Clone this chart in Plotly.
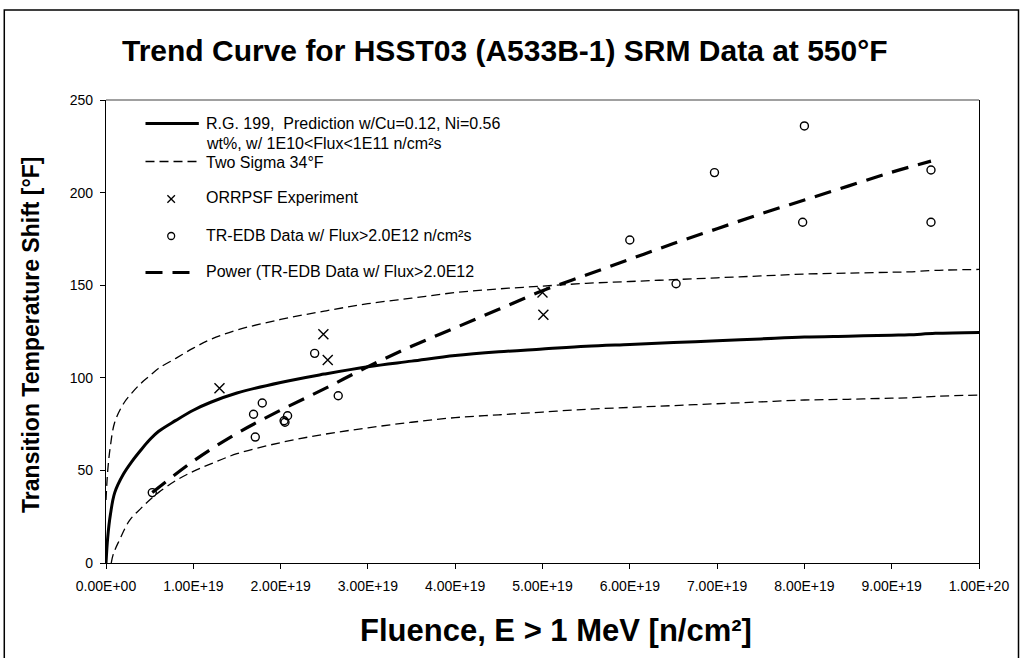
import plotly.graph_objects as go

# ---------------- data (fluence in units of 1e19 n/cm^2) ----------------
E19 = 1e19

x_tick_vals = [0, 1, 2, 3, 4, 5, 6, 7, 8, 9, 10]
x_tick_text = ["0.00E+00", "1.00E+19", "2.00E+19", "3.00E+19", "4.00E+19", "5.00E+19",
               "6.00E+19", "7.00E+19", "8.00E+19", "9.00E+19", "1.00E+20"]
y_tick_vals = [0, 50, 100, 150, 200, 250]

# R.G. 199 prediction curve
rg_x = [0, 0.02, 0.05, 0.1, 0.2, 0.3, 0.4, 0.5, 0.6, 0.8, 1.0, 1.2, 1.5, 2.0,
        2.5, 3.0, 3.5, 4.0, 4.5, 5.0, 5.5, 6.0, 6.5, 7.0, 7.5, 8.0, 8.5, 9.0, 9.2, 9.5, 10.0]
rg_y = [0, 14, 26, 38, 48, 55, 61, 66.5, 71, 77, 82.5, 86.8, 91.8, 97.5,
        102, 106, 109, 112, 114, 115.5, 117, 118, 119, 120, 121, 122, 122.5, 123, 123.2, 124, 124.5]

# Two sigma (upper / lower)
up_x = [0, 0.02, 0.05, 0.1, 0.2, 0.3, 0.4, 0.5, 0.6, 0.8, 1.0, 1.2, 1.5, 2.0,
        2.5, 3.0, 3.5, 4.0, 4.5, 5.0, 5.5, 6.0, 6.5, 7.0, 7.5, 8.0, 8.5, 9.0, 9.2, 9.5, 10.0]
up_y = [34, 50, 63, 76, 86, 92, 97, 101, 105, 110.5, 116, 120.8, 125.8, 131.5,
        136, 140, 143, 146, 148, 149.5, 151, 152, 153, 154, 155, 156, 156.5, 157, 157.2, 158, 158.5]
lo_x = [0.06, 0.085, 0.15, 0.27, 0.4, 0.5, 0.6, 0.8, 1.0, 1.2, 1.5, 2.0, 2.5, 3.0, 3.5, 4.0,
        4.5, 5.0, 5.5, 6.0, 6.5, 7.0, 7.5, 8.0, 8.5, 9.0, 9.2, 9.5, 10.0]
lo_y = [0, 5, 12, 23, 29.5, 34, 38, 44.5, 49.5, 53.5, 59, 65, 69.5, 73, 76, 78.5,
        80, 81.5, 83, 84, 85, 86, 87, 88, 88.4, 89, 89.2, 90, 90.7]

# ORRPSF experiment
orr_x = [1.30, 2.49, 2.54, 5.00, 5.01]
orr_y = [94.3, 123.5, 109.6, 146, 134]

# TR-EDB data w/ flux > 2.0E12
tr_x = [0.53, 1.69, 1.71, 1.79, 2.04, 2.05, 2.08, 2.39, 2.66, 6.00, 6.53, 6.97, 7.98, 8.00, 9.45, 9.45]
tr_y = [38, 80.3, 68, 86.4, 76.8, 76, 79.5, 113.2, 90.3, 174.4, 150.8, 210.8, 184, 236, 212.2, 184]

# Power trend of TR-EDB data
pw_x = [0.53, 1.0, 1.5, 2.0, 2.5, 3.0, 3.5, 4.0, 4.5, 5.0, 5.5, 6.0, 6.5, 7.0, 7.5,
        8.0, 8.5, 9.0, 9.45]
pw_y = [38, 55, 70, 82.5, 94, 106, 117, 127, 137, 147, 155.5, 164, 172.5, 180.5, 188.5,
        196, 203.5, 211, 217]

legend_texts = [
    "R.G. 199,  Prediction w/Cu=0.12, Ni=0.56",
    "wt%, w/ 1E10<Flux<1E11 n/cm²s",
    "Two Sigma 34°F",
    "ORRPSF Experiment",
    "TR-EDB Data w/ Flux>2.0E12 n/cm²s",
    "Power (TR-EDB Data w/ Flux>2.0E12",
]

# ---------------- geometry ----------------
W, H = 1021, 658
PL, PR, PT, PB = 106, 990, 100, 563
FONT = "Arial, Liberation Sans, sans-serif"


def px(p):
    return (p - PL) / (PR - PL)


def py(p):
    return (PB - p) / (PB - PT)


sc = lambda v: [a * E19 for a in v]

fig = go.Figure()
fig.add_trace(go.Scatter(x=sc(up_x), y=up_y, mode="lines", line_shape="spline",
                         line=dict(color="black", width=1.3, dash="9px,5px"), showlegend=False))
fig.add_trace(go.Scatter(x=sc(lo_x), y=lo_y, mode="lines", line_shape="spline",
                         line=dict(color="black", width=1.3, dash="9px,5px"), showlegend=False))
fig.add_trace(go.Scatter(x=sc(rg_x), y=rg_y, mode="lines", line_shape="spline",
                         line=dict(color="black", width=3), showlegend=False))
fig.add_trace(go.Scatter(x=sc(pw_x), y=pw_y, mode="lines", line_shape="spline",
                         line=dict(color="black", width=3.2, dash="17px,10px"), showlegend=False))
fig.add_trace(go.Scatter(x=sc(orr_x), y=orr_y, mode="markers",
                         marker=dict(symbol="x-thin", size=10, line=dict(color="black", width=1.4)),
                         showlegend=False))
fig.add_trace(go.Scatter(x=sc(tr_x), y=tr_y, mode="markers",
                         marker=dict(symbol="circle-open", size=8, color="black", line=dict(width=1.4)),
                         showlegend=False))

shapes = []
# outer chart border
shapes.append(dict(type="rect", xref="paper", yref="paper", x0=px(3), x1=px(1030), y0=py(10), y1=py(700),
                   line=dict(color="black", width=1.5), layer="below"))
# top plot border (gray)
shapes.append(dict(type="line", xref="paper", yref="paper", x0=0, x1=1, y0=1, y1=1,
                   line=dict(color="#808080", width=1.5)))

# legend keys
LX0, LX1 = 146, 200
shapes.append(dict(type="line", xref="paper", yref="paper", x0=px(LX0), x1=px(LX1), y0=py(123.5), y1=py(123.5),
                   line=dict(color="black", width=3)))
shapes.append(dict(type="line", xref="paper", yref="paper", x0=px(LX0), x1=px(LX1), y0=py(161.5), y1=py(161.5),
                   line=dict(color="black", width=1.3, dash="9px,5px")))
shapes.append(dict(type="line", xref="paper", yref="paper", x0=px(LX0), x1=px(LX1), y0=py(272.5), y1=py(272.5),
                   line=dict(color="black", width=3.2, dash="17px,10px")))
cx, cy, r = 172, 199, 3.8
shapes.append(dict(type="line", xref="paper", yref="paper", x0=px(cx - r), x1=px(cx + r), y0=py(cy - r), y1=py(cy + r),
                   line=dict(color="black", width=1.3)))
shapes.append(dict(type="line", xref="paper", yref="paper", x0=px(cx - r), x1=px(cx + r), y0=py(cy + r), y1=py(cy - r),
                   line=dict(color="black", width=1.3)))
cy2, r2 = 236, 3.5
shapes.append(dict(type="circle", xref="paper", yref="paper", x0=px(cx - r2), x1=px(cx + r2), y0=py(cy2 - r2), y1=py(cy2 + r2),
                   line=dict(color="black", width=1.3)))

annotations = []
leg_y = [123.5, 143.5, 162.5, 197.5, 235, 271.5]
for t, yy in zip(legend_texts, leg_y):
    annotations.append(dict(text=t, xref="paper", yref="paper", x=px(205), y=py(yy), xanchor="left",
                            yanchor="middle", showarrow=False, font=dict(family=FONT, size=16, color="black")))

annotations.append(dict(text="<b>Trend Curve for HSST03 (A533B-1) SRM Data at 550°F</b>", xref="paper", yref="paper",
                        x=px(510), y=py(50), xanchor="center", yanchor="middle", showarrow=False,
                        font=dict(family=FONT, size=30, color="black")))
annotations.append(dict(text="<b>Fluence, E > 1 MeV [n/cm²]</b>", xref="paper", yref="paper",
                        x=px(562), y=py(630), xanchor="center", yanchor="middle", showarrow=False,
                        font=dict(family=FONT, size=31, color="black")))
annotations.append(dict(text="<b>Transition Temperature Shift [°F]</b>", xref="paper", yref="paper",
                        x=px(30), y=py(335), xanchor="center", yanchor="middle", showarrow=False, textangle=-90,
                        font=dict(family=FONT, size=23, color="black")))

fig.update_layout(
    width=W, height=H,
    margin=dict(l=PL, r=W - PR, t=PT, b=H - PB),
    paper_bgcolor="white", plot_bgcolor="white",
    font=dict(family=FONT, color="black"),
    shapes=shapes, annotations=annotations,
    xaxis=dict(range=[0, 10 * E19], tickvals=sc(x_tick_vals), ticktext=x_tick_text,
               showgrid=False, zeroline=False, showline=True, linecolor="black", linewidth=1.3,
               ticks="outside", ticklen=5, tickcolor="black", tickfont=dict(size=14, family=FONT),
               ticklabelstandoff=5),
    yaxis=dict(range=[0, 250], tickvals=y_tick_vals, showgrid=False, zeroline=False,
               showline=True, linecolor="black", linewidth=1.3, mirror=True,
               ticks="outside", ticklen=5, tickcolor="black", tickfont=dict(size=14, family=FONT),
               ticklabelstandoff=4),
    showlegend=False,
)

fig.write_html("out.html")
